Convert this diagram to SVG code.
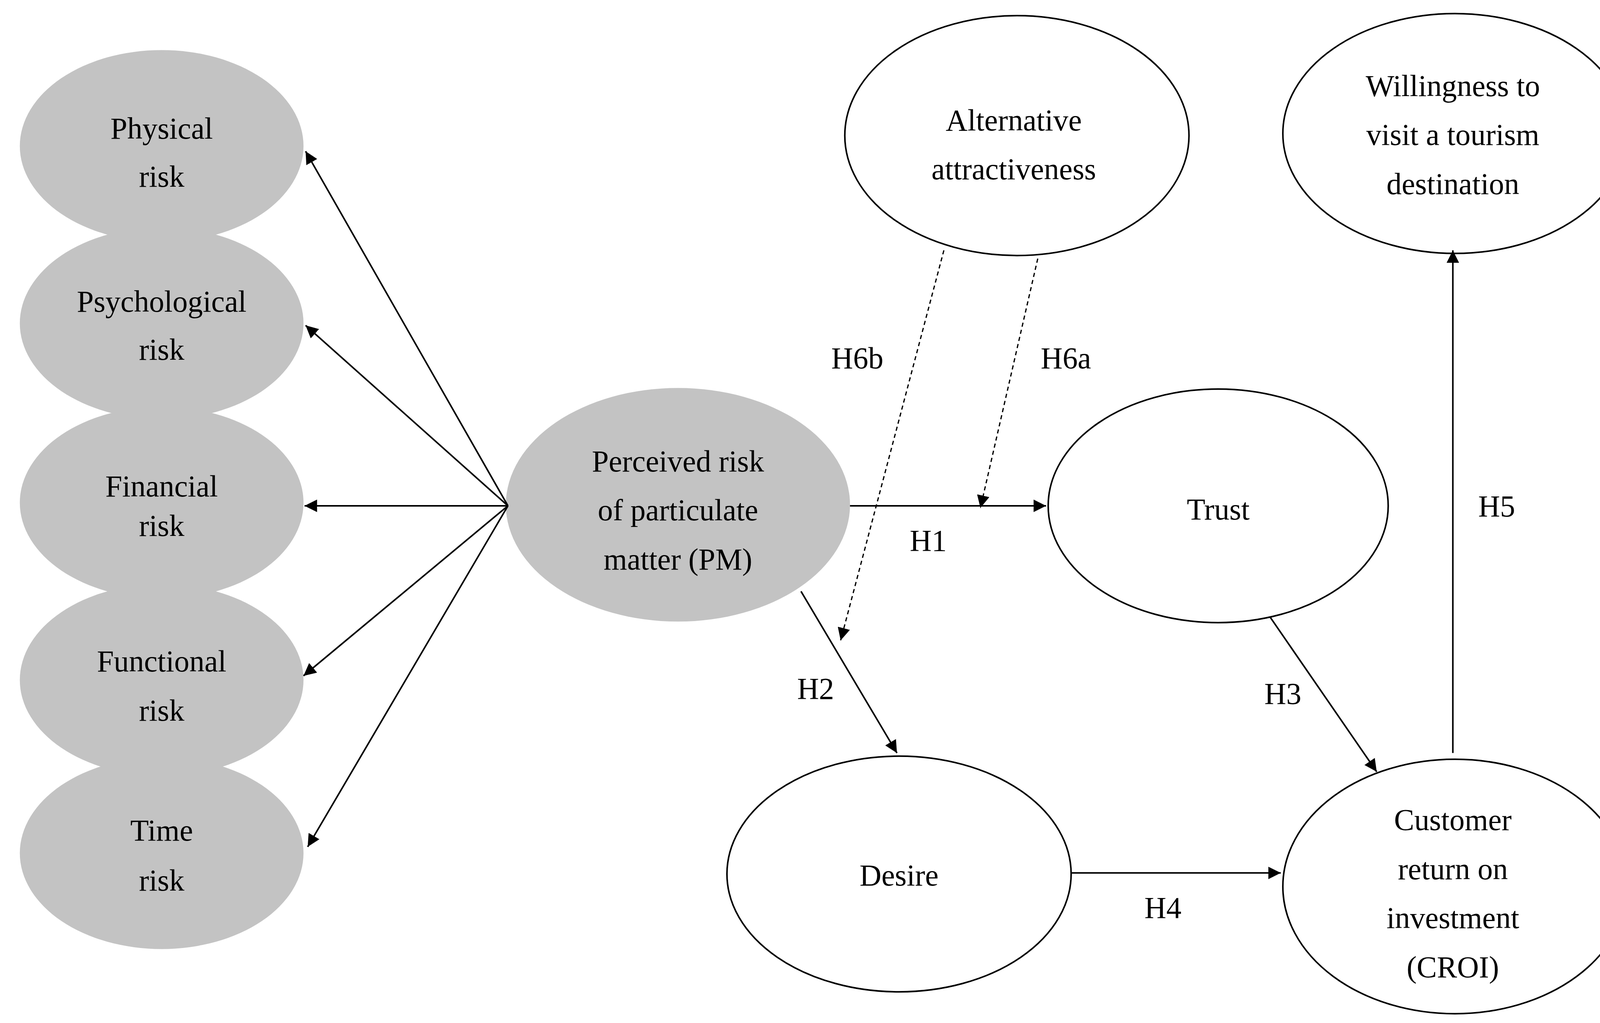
<svg xmlns="http://www.w3.org/2000/svg" width="4165" height="2619" viewBox="0 0 4165 2619">
<style>
.g{fill:#c3c3c3;stroke:none}
.w{fill:#fff;stroke:#000;stroke-width:1.5}
text{font-family:"Liberation Serif","DejaVu Serif",serif;font-size:29px;text-anchor:middle;fill:#000}
.l{stroke:#000;stroke-width:1.5;fill:none}
.d{stroke:#000;stroke-width:1.2;fill:none;stroke-dasharray:4,3}
</style>
<defs><marker id="a" viewBox="0 0 10 10" refX="10" refY="5" markerWidth="12" markerHeight="12" markerUnits="userSpaceOnUse" orient="auto"><path d="M0,0L10,5L0,10z" fill="#000"/></marker></defs>
<rect width="4165" height="2619" fill="#fff"/>
<g transform="scale(2.67)">
<g id="physical"><ellipse class="g" cx="155" cy="140" rx="136" ry="92"/><text x="155" y="133">Physical</text><text x="155" y="179">risk</text></g>
<g id="psychological"><ellipse class="g" cx="155" cy="310" rx="136" ry="92"/><text x="155" y="299">Psychological</text><text x="155" y="345">risk</text></g>
<g id="financial"><ellipse class="g" cx="155" cy="482" rx="136" ry="92"/><text x="155" y="476">Financial</text><text x="155" y="514">risk</text></g>
<g id="functional"><ellipse class="g" cx="155" cy="652" rx="136" ry="92"/><text x="155" y="644">Functional</text><text x="155" y="691">risk</text></g>
<g id="time"><ellipse class="g" cx="155" cy="818" rx="136" ry="92"/><text x="155" y="806">Time</text><text x="155" y="854">risk</text></g>
<g id="pm"><ellipse class="g" cx="650" cy="484" rx="165" ry="112"/><text x="650" y="452">Perceived risk</text><text x="650" y="499">of particulate</text><text x="650" y="546">matter (PM)</text></g>
<g id="alt"><ellipse class="w" cx="975" cy="130" rx="165" ry="115"/><text x="972" y="125">Alternative</text><text x="972" y="172">attractiveness</text></g>
<g id="will"><ellipse class="w" cx="1395" cy="128" rx="165" ry="115"/><text x="1393" y="92">Willingness to</text><text x="1393" y="139">visit a tourism</text><text x="1393" y="186">destination</text></g>
<g id="trust"><ellipse class="w" cx="1168" cy="485" rx="163" ry="112"/><text x="1168" y="498">Trust</text></g>
<g id="desire"><ellipse class="w" cx="862" cy="838" rx="165" ry="113"/><text x="862" y="849">Desire</text></g>
<g id="croi"><ellipse class="w" cx="1395" cy="850" rx="165" ry="122"/><text x="1393" y="796">Customer</text><text x="1393" y="843">return on</text><text x="1393" y="890">investment</text><text x="1393" y="937">(CROI)</text></g>
<g id="connectors">
<line class="l" x1="487" y1="485" x2="293" y2="145" marker-end="url(#a)"/>
<line class="l" x1="487" y1="485" x2="293" y2="312" marker-end="url(#a)"/>
<line class="l" x1="487" y1="485" x2="292" y2="485" marker-end="url(#a)"/>
<line class="l" x1="487" y1="485" x2="291" y2="648" marker-end="url(#a)"/>
<line class="l" x1="487" y1="485" x2="295" y2="812" marker-end="url(#a)"/>
<line class="l" x1="815" y1="485" x2="1003" y2="485" marker-end="url(#a)"/>
<line class="d" x1="995" y1="248" x2="940" y2="487" marker-end="url(#a)"/>
<line class="d" x1="905" y1="240" x2="806" y2="614" marker-end="url(#a)"/>
<line class="l" x1="768" y1="567" x2="860" y2="722" marker-end="url(#a)"/>
<line class="l" x1="1218" y1="592" x2="1320" y2="740" marker-end="url(#a)"/>
<line class="l" x1="1027" y1="837" x2="1228" y2="837" marker-end="url(#a)"/>
<line class="l" x1="1393" y1="722" x2="1393" y2="240" marker-end="url(#a)"/>
</g>
<g id="labels">
<text x="822" y="353">H6b</text><text x="1022" y="353">H6a</text><text x="890" y="528">H1</text><text x="782" y="670">H2</text><text x="1230" y="675">H3</text><text x="1115" y="880">H4</text><text x="1435" y="495">H5</text>
</g>
</g>
</svg>
